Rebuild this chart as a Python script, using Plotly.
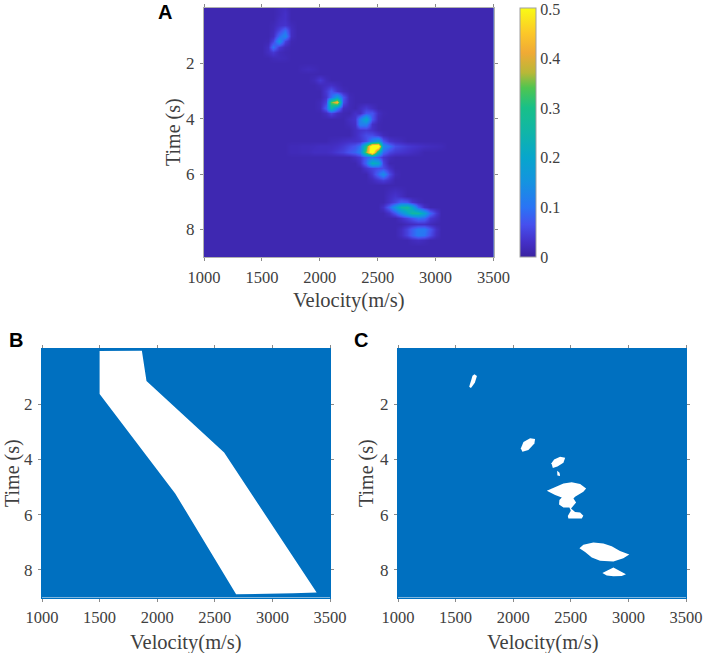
import numpy as np
import plotly.graph_objects as go

W, H = 706, 653

velocity_ticks = [1000, 1500, 2000, 2500, 3000, 3500]
time_ticks = [2, 4, 6, 8]
cbar_ticks = [0, 0.1, 0.2, 0.3, 0.4, 0.5]
cbar_labels = ["0", "0.1", "0.2", "0.3", "0.4", "0.5"]

grid_velocity = [1000 + 50 * i for i in range(51)]
grid_time = [round(0.2 * i, 1) for i in range(46)]
background_level = 0.013

# Panel A samples: time -> (first velocity, values every 50 m/s)
samples_a = [
    (0.0, 1650, [.02, .025]),
    (0.2, 1650, [.02, .03]),
    (0.4, 1650, [.025, .03]),
    (0.6, 1600, [.018, .03, .035, .02]),
    (0.8, 1600, [.02, .05, .09, .025]),
    (1.0, 1600, [.025, .09, .13, .025]),
    (1.2, 1550, [.015, .05, .15, .05, .015]),
    (1.4, 1550, [.025, .10, .04, .02]),
    (1.6, 1550, [.025, .04, .02, .015]),
    (1.8, 1600, [.018, .02, .018]),
    (2.2, 1850, [.018, .022, .018]),
    (2.6, 1950, [.02, .04, .02]),
    (2.8, 2000, [.02, .025, .03, .02]),
    (3.0, 2050, [.04, .07, .035, .02]),
    (3.2, 2050, [.035, .09, .18, .07, .02]),
    (3.4, 2000, [.02, .05, .34, .44, .06, .02]),
    (3.6, 2000, [.02, .08, .25, .12, .025, .018]),
    (3.6, 2350, [.025, .04, .025]),
    (3.8, 2050, [.025, .05, .025, .015]),
    (3.8, 2300, [.03, .025, .07, .07, .025, .015]),
    (4.0, 2250, [.025, .035, .12, .21, .07, .02]),
    (4.2, 2250, [.02, .03, .12, .12, .03, .015]),
    (4.4, 2300, [.025, .035, .04, .03, .015]),
    (4.6, 2300, [.025, .04, .06, .06, .04, .02]),
    (4.8, 2100, [.018, .02, .025, .03, .03, .035, .06, .13, .18, .07, .035, .025, .02]),
    (5.0, 1750, [.018, .018, .02, .02, .022, .025, .025, .025, .03, .04, .055, .07, .10, .30, .58, .58, .14, .10, .06, .05, .04, .035, .03, .025, .022, .02, .018]),
    (5.2, 1750, [.018, .018, .02, .02, .025, .025, .025, .03, .04, .05, .07, .085, .12, .36, .58, .24, .09, .055, .04, .035, .03, .025, .02]),
    (5.4, 2300, [.025, .04, .08, .10, .07, .035, .02]),
    (5.6, 2350, [.03, .09, .23, .20, .05]),
    (5.8, 2400, [.035, .05, .06, .06, .03]),
    (6.0, 2450, [.04, .09, .14, .06, .02]),
    (6.2, 2450, [.02, .035, .045, .03]),
    (6.6, 2600, [.02, .025, .02]),
    (6.8, 2600, [.025, .035, .025]),
    (7.0, 2600, [.03, .05, .08, .07, .035, .02]),
    (7.2, 2550, [.03, .08, .16, .25, .27, .20, .08, .03]),
    (7.4, 2600, [.03, .07, .13, .20, .26, .26, .19, .09, .04]),
    (7.6, 2700, [.03, .05, .07, .10, .09, .04, .025]),
    (7.8, 2750, [.02, .025, .03, .03, .02]),
    (8.0, 2700, [.025, .05, .08, .11, .11, .07, .03]),
    (8.2, 2700, [.025, .05, .08, .11, .10, .06, .025]),
    (8.4, 2800, [.02, .025, .02]),
]

# Panel B: admissible velocity corridor
corridor_velocity = [1500, 1867, 1907, 2581, 3384, 3182, 2685, 2156, 1500]
corridor_time = [0.07, 0.06, 1.16, 3.75, 8.82, 8.85, 8.88, 5.23, 1.63]

# Panel C: thresholded regions
region1_velocity = [1664, 1685, 1667, 1633, 1618, 1633, 1647]
region1_time = [0.91, 0.98, 1.22, 1.41, 1.37, 1.12, 0.97]
region2_velocity = [2147, 2190, 2184, 2132, 2080, 2066, 2089]
region2_time = [3.23, 3.26, 3.42, 3.66, 3.72, 3.60, 3.37]
region3_velocity = [2332, 2355, 2407, 2451, 2436, 2384, 2344]
region3_time = [4.14, 4.00, 3.90, 3.94, 4.12, 4.26, 4.31]
region4_velocity = [2381, 2402, 2407, 2384]
region4_time = [4.41, 4.48, 4.60, 4.58]
region5_velocity = [2292, 2372, 2436, 2508, 2581, 2633, 2609, 2537, 2523, 2546, 2517, 2502, 2537,
                    2581, 2609, 2595, 2479, 2474, 2500, 2488, 2436, 2398, 2401, 2422, 2364]
region5_time = [5.135, 4.99, 4.87, 4.83, 4.89, 5.05, 5.17, 5.35, 5.41, 5.56, 5.69, 5.78, 5.90,
                5.92, 6.04, 6.14, 6.14, 6.05, 5.86, 5.74, 5.74, 5.63, 5.47, 5.38, 5.29]
region6_velocity = [2575, 2609, 2696, 2783, 2855, 2927, 3008, 2956, 2870, 2754, 2682, 2624]
region6_time = [7.22, 7.09, 7.01, 7.04, 7.14, 7.32, 7.44, 7.58, 7.70, 7.67, 7.55, 7.35]
region7_velocity = [2774, 2826, 2870, 2922, 2979, 2942, 2870, 2812]
region7_time = [8.11, 8.01, 7.91, 8.03, 8.16, 8.22, 8.23, 8.20]
regions = [
    (region1_velocity, region1_time), (region2_velocity, region2_time),
    (region3_velocity, region3_time), (region4_velocity, region4_time),
    (region5_velocity, region5_time), (region6_velocity, region6_time),
    (region7_velocity, region7_time),
]

parula = [
    [0.00, "#3a22a0"], [0.06, "#4430c8"], [0.13, "#4650ee"], [0.20, "#2a74f5"],
    [0.30, "#1593e0"], [0.40, "#07a6cc"], [0.50, "#10b5a8"], [0.60, "#18c088"],
    [0.68, "#50c550"], [0.74, "#b8b838"], [0.82, "#f0aa35"], [0.90, "#fcc828"],
    [1.00, "#f9fb15"],
]

z = np.full((len(grid_time), len(grid_velocity)), background_level)
for t, v0, vals in samples_a:
    r = grid_time.index(t)
    c = grid_velocity.index(v0)
    z[r, c:c + len(vals)] = vals

SERIF = "Liberation Serif"
INK = "#404040"
TICK = "#8a8a8a"
BLUE = "#0070c0"


def fx(px):
    return px / W


def fy(py):
    return 1 - py / H


def axis_common(size, line):
    return dict(ticks="outside", ticklen=3, tickwidth=1, tickcolor=TICK, showgrid=False,
                zeroline=False, showline=True, linecolor=line, linewidth=1, mirror="ticks",
                automargin=False, ticklabelstandoff=2,
                tickfont=dict(family=SERIF, size=size, color=INK))


fig = go.Figure()
fig.add_trace(go.Heatmap(
    x=grid_velocity, y=grid_time, z=z.tolist(), zmin=0, zmax=0.502, zsmooth="best",
    colorscale=parula, xaxis="x", yaxis="y", hoverinfo="skip",
    colorbar=dict(x=fx(520), xanchor="left", thickness=16, thicknessmode="pixels",
                  y=fy(8), yanchor="top", len=248.5, lenmode="pixels",
                  tickvals=cbar_ticks, ticktext=cbar_labels, ticks="",
                  outlinecolor="#a0a0a0", outlinewidth=1, xpad=0, ypad=0,
                  tickfont=dict(family=SERIF, size=16, color=INK)),
))
fig.add_trace(go.Scatter(x=corridor_velocity, y=corridor_time, fill="toself", mode="lines",
                         fillcolor="white", line=dict(width=0, color="white"),
                         xaxis="x2", yaxis="y2", showlegend=False, hoverinfo="skip"))
for rv, rt in regions:
    fig.add_trace(go.Scatter(x=rv, y=rt, fill="toself", mode="lines", fillcolor="white",
                             line=dict(width=0, color="white"), xaxis="x3", yaxis="y3",
                             showlegend=False, hoverinfo="skip"))

panels = [("", 204, 493.5, 8, 257, "#b0b0b0"), ("2", 42, 330, 349, 597.5, BLUE), ("3", 398, 686, 349, 597.5, BLUE)]
layout = dict(width=W, height=H, margin=dict(l=0, r=0, t=0, b=0, autoexpand=False), autosize=False,
              paper_bgcolor="white", plot_bgcolor=BLUE, showlegend=False)
for s, x0, x1, top, bottom, line in panels:
    xa = axis_common(16.5, line)
    xa.update(domain=[fx(x0), fx(x1)], range=[1000, 3500], tickvals=velocity_ticks, anchor="y" + s)
    ya = axis_common(17, line)
    ya.update(domain=[fy(bottom), fy(top)], range=[9, 0], tickvals=time_ticks, anchor="x" + s)
    layout["xaxis" + s] = xa
    layout["yaxis" + s] = ya
fig.update_layout(**layout)

for label, px, py in [("A", 165, 12), ("B", 16, 340), ("C", 361, 340)]:
    fig.add_annotation(text=label, x=fx(px), y=fy(py), xref="paper", yref="paper",
                       showarrow=False, xanchor="center", yanchor="middle",
                       font=dict(family="Liberation Sans", size=20, color="black", weight="bold"))

for px, py in [(349, 300), (186, 642), (543, 642)]:
    fig.add_annotation(text="Velocity(m/s)", x=fx(px), y=fy(py), xref="paper", yref="paper",
                       showarrow=False, xanchor="center", yanchor="middle",
                       font=dict(family=SERIF, size=20.5, color=INK))
for px, py in [(173, 132), (13, 473), (367, 473)]:
    fig.add_annotation(text="Time (s)", x=fx(px), y=fy(py), xref="paper", yref="paper",
                       textangle=-90, showarrow=False, xanchor="center", yanchor="middle",
                       font=dict(family=SERIF, size=20, color=INK))

fig.write_html("out.html", post_script="document.body.style.margin='0';",
               config={"displayModeBar": False})
